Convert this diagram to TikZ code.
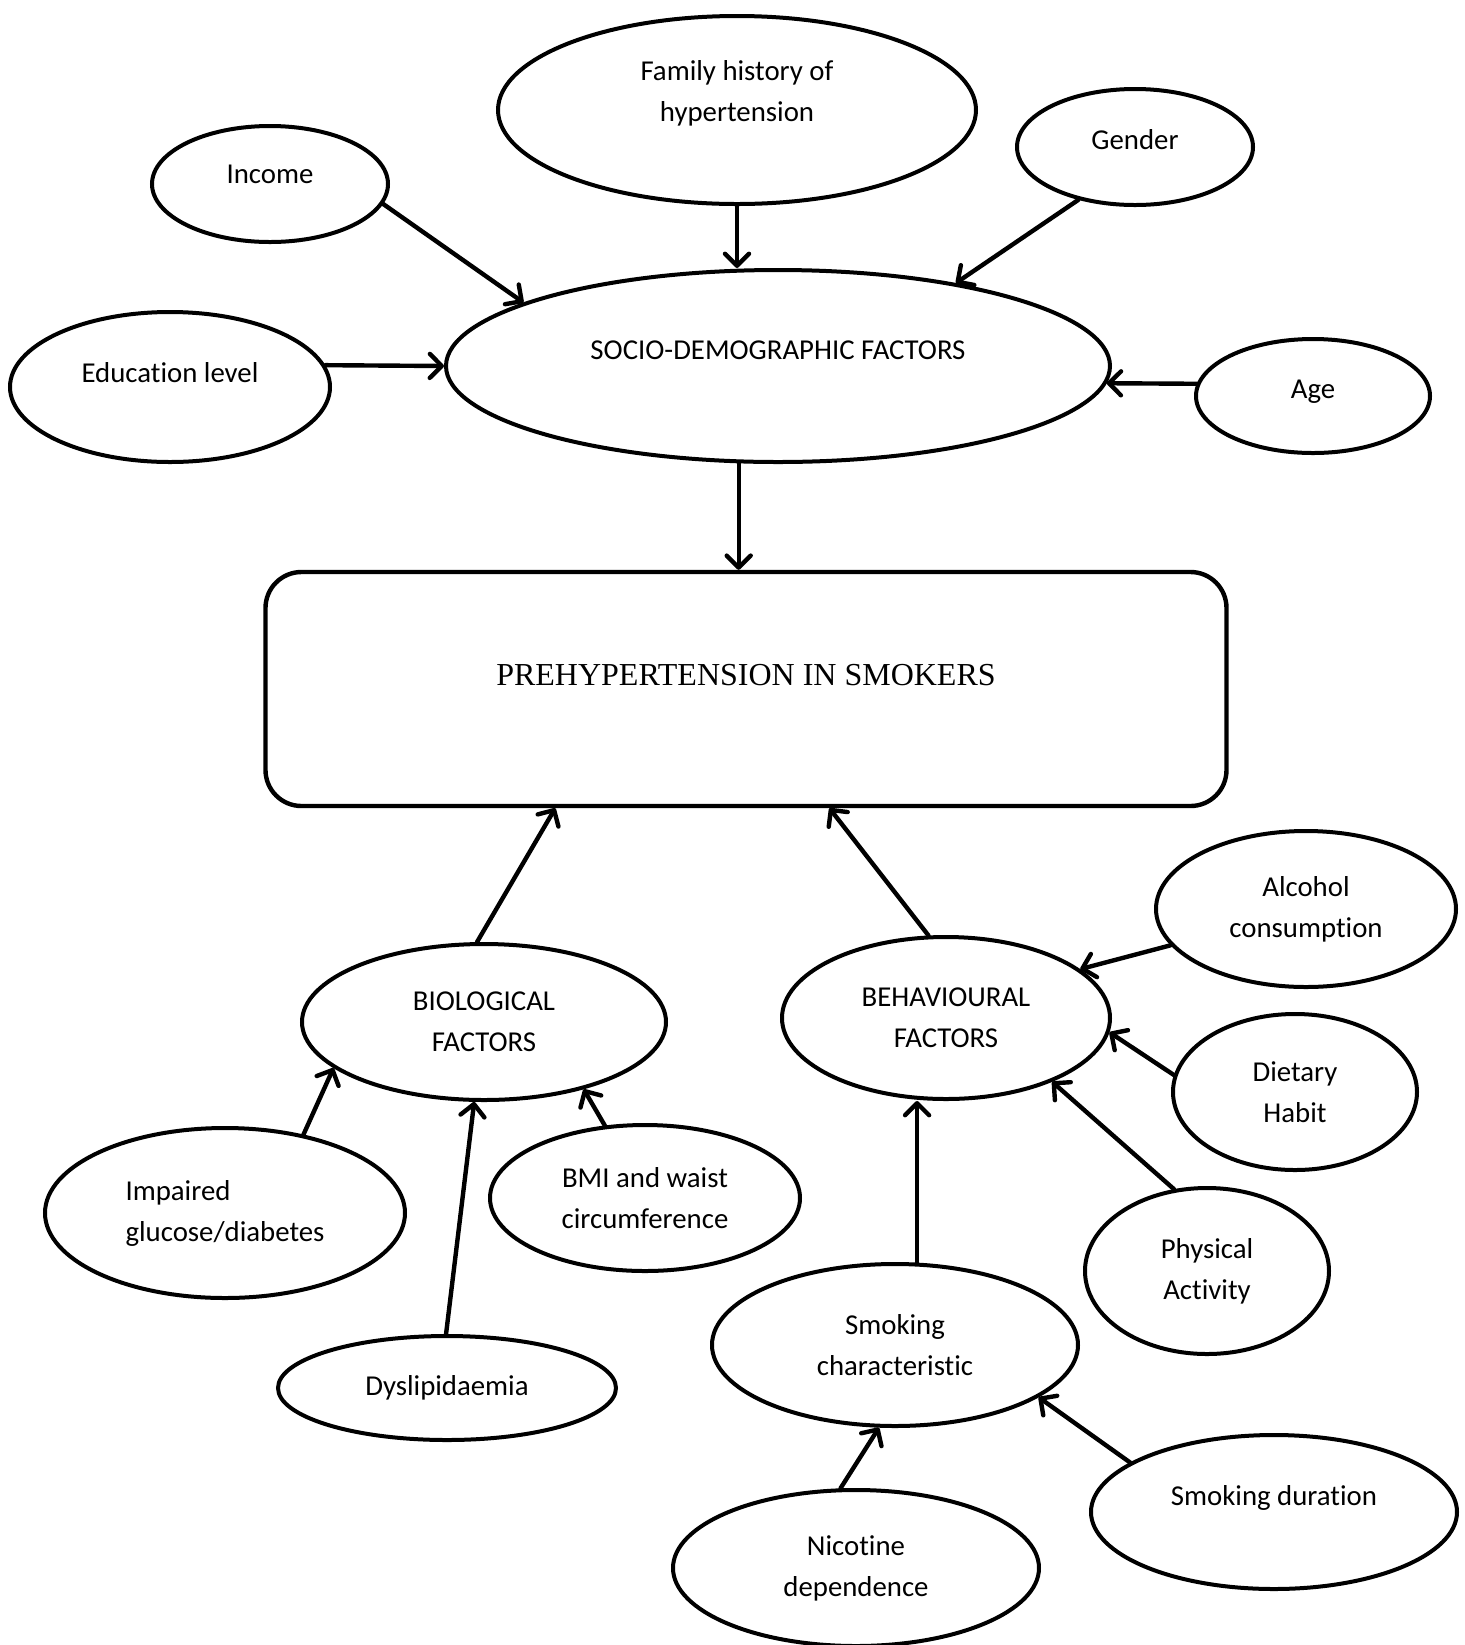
\documentclass[tikz,border=0pt]{standalone}
\usepackage{fontspec}
\setmainfont{Carlito}[Ligatures=CommonOff]
\newfontfamily\timesfont{Liberation Serif}
\usetikzlibrary{shapes.geometric,arrows.meta}
\tikzset{
  factor/.style={ellipse,draw,line width=2pt,inner sep=0pt,align=center,
    font=\fontsize{14.4}{20.5}\selectfont},
  esize/.style 2 args={minimum width=#1pt,minimum height=#2pt},
  arr/.style={-{Straight Barb[length=6pt,width=12pt,round]},line width=2.2pt,line cap=round}
}

\begin{document}
\begin{tikzpicture}[x=0.5pt,y=-0.5pt]
      \useasboundingbox (0,0) rectangle (1465,1645);
      % socio-demographic part
      \node[factor,esize={239}{94},text depth=19pt] (fam) at (737,110) {Family history of\\hypertension};
      \node[factor,esize={118}{58},text depth=10pt] (inc) at (270,184) {Income};
      \node[factor,esize={118}{58},text depth=8pt] (gen) at (1135,147) {Gender};
      \node[factor,esize={332}{96},text depth=16pt] (soc) at (778,366) {SOCIO-DEMOGRAPHIC FACTORS};
      \node[factor,esize={160}{75},text depth=15pt] (edu) at (170,387) {Education level};
      \node[factor,esize={117}{57},text depth=7pt] (age) at (1313,396) {Age};
      % outcome
      \node[draw,rounded corners=18pt,line width=2.2pt,minimum width=480.5pt,minimum height=117pt,
        text depth=14pt,font=\timesfont\fontsize{16}{19}\selectfont] (pre) at (746,689) {PREHYPERTENSION IN SMOKERS};
      % biological part
      \node[factor,esize={182}{78}] (bio) at (484,1022) {BIOLOGICAL\\FACTORS};
      \node[factor,esize={180}{85},align=left] (imp) at (225,1213) {Impaired\\glucose/diabetes};
      \node[factor,esize={155}{73}] (bmi) at (645,1198) {BMI and waist\\circumference};
      \node[factor,esize={169}{52}] (dys) at (447,1388) {Dyslipidaemia};
      % behavioural part
      \node[factor,esize={164}{81}] (beh) at (946,1018) {BEHAVIOURAL\\FACTORS};
      \node[factor,esize={150}{78}] (alc) at (1306,909) {Alcohol\\consumption};
      \node[factor,esize={122}{78}] (die) at (1295,1092) {Dietary\\Habit};
      \node[factor,esize={122}{83}] (phy) at (1207,1271) {Physical\\Activity};
      \node[factor,esize={183}{81}] (smk) at (895,1345) {Smoking\\characteristic};
      \node[factor,esize={183}{77},text depth=17pt] (dur) at (1274,1512) {Smoking duration};
      \node[factor,esize={183}{78}] (nic) at (856,1568) {Nicotine\\dependence};
      \path[arr]
        (fam.south) edge (fam.south |- soc.north)
        (inc.350) edge (soc.166)
        (gen.223) edge (soc.25)
        (edu.8) edge (soc.180)
        (age.174) edge (soc.357)
        (soc.248) edge (soc.248 |- pre.north)
        (bio.95) edge (pre.212)
        (beh.102) edge (pre.305)
        (alc.195) edge (beh.20)
        (die.172) edge (beh.355)
        (phy.112) edge (beh.329)
        (imp.45) edge (bio.197)
        (dys.91) edge (bio.263)
        (bmi.119) edge (bio.326)
        (smk.75) edge (smk.75 |- beh.south)
        (nic.101) edge (smk.259)
        (dur.161) edge (smk.340)
      ;
    \end{tikzpicture}
\end{document}
